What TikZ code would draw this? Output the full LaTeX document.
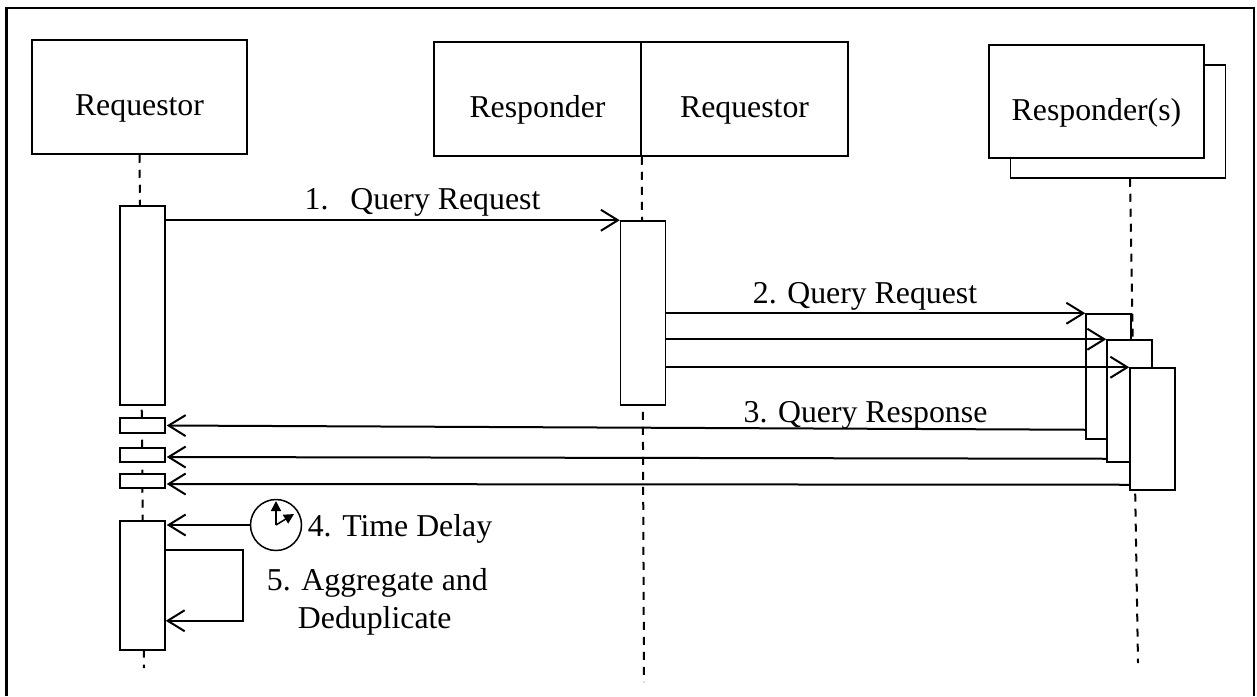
\documentclass[tikz,border=0pt]{standalone}
\usepackage{fontspec}
\setmainfont{Liberation Serif}
\usetikzlibrary{positioning, arrows.meta}

\tikzset{
  lab/.style={font=\fontsize{31.8}{38}\selectfont, inner sep=0pt},
  actor/.style={draw, fill=white, line width=1.5pt, minimum width=215pt, minimum height=114pt, inner sep=0pt, lab, text height=44pt, text depth=7pt},
  bar/.style={draw, fill=white, line width=1.5pt, minimum width=45pt, inner sep=0pt},
  life/.style={line width=2pt, dash pattern=on 8pt off 7pt},
  msg/.style={line width=2pt, -{Straight Barb[length=17pt,width=21pt,line width=2pt]}},
  hand/.style={line width=1.5pt, -{Triangle[length=10pt,width=10pt]}}
}

\begin{document}
\begin{tikzpicture}[x=1pt, y=1pt, on grid, node distance=100pt]
   \useasboundingbox (0,0) rectangle (1257,-696);
   \draw[line width=2.5pt] (6.5,-696) |- (1254,-8) -- (1254,-696);

   % Heads
   \node[actor] (reqa) at (139.5,-97) {Requestor};
   \node[actor, minimum width=207pt] (resp) [below right=2pt and 398pt of reqa] {Responder};
   \node[actor, minimum width=207pt] (reqb) [right=207pt of resp] {Requestor};
   \node[actor, minimum height=113pt] (back) [below right=22.5pt and 373.5pt of reqb] {};
   \node[actor, minimum height=113pt] (respc) [above left=20pt and 21.5pt of back] {Responder(s)};

   % Lifelines
   \coordinate (enda) at (144,-668);
   \coordinate (endb) at (644,-682);
   \coordinate (endc) at (1138,-663);
   \draw[life] (reqa.south) -- (enda);
   \draw[life] (resp.south east) -- (endb);
   \draw[life] ([xshift=12pt]back.south) -- (endc);

   % Activation bars
   \node[bar, minimum height=199pt] (bara) at (142.5,-305.5) {};
   \node[bar, minimum height=15pt] (smalla) [below=120pt of bara] {};
   \node[bar, minimum height=14pt] (smallb) [below=29.5pt of smalla] {};
   \node[bar, minimum height=14pt] (smallc) [below=26pt of smallb] {};
   \node[bar, minimum height=129pt] (barz) [below=104.5pt of smallc] {};
   \node[bar, minimum height=184pt] (barb) [below right=7.5pt and 500.5pt of bara] {};
   \node[bar, minimum height=125pt] (barc) [below right=63.5pt and 465.5pt of barb] {};
   \node[bar, minimum height=122pt] (bard) [below right=24.5pt and 21pt of barc] {};
   \node[bar, minimum height=122pt] (bare) [below right=28pt and 23pt of bard] {};

   % Clock
   \node[draw, circle, line width=1.5pt, minimum size=51pt, inner sep=0pt] (clock) [above right=60.5pt and 133.5pt of barz] {};
   \coordinate[above=24pt of clock.center] (handa);
   \coordinate[above right=11pt and 18pt of clock.center] (handb);
   \draw[hand] (clock.center) -- (handa);
   \draw[hand] (clock.center) -- (handb);

   % Requests
   \draw[msg] (bara.east |- barb.north) -- (barb.north west);
   \draw[msg] (barb.east |- barc.north) -- (barc.north west);
   \draw[msg] (barb.east |- bard.north) -- (bard.north west);
   \draw[msg] (barb.east |- bare.north) -- (bare.north west);

   % Responses
   \draw[msg, shorten >=1pt] ([yshift=10pt]barc.south west) -- (smalla.east);
   \draw[msg, shorten >=1pt] ([yshift=4pt]bard.south west) -- ([yshift=-2pt]smallb.east);
   \draw[msg, shorten >=1pt] ([yshift=6pt]bare.south west) -- ([yshift=-3pt]smallc.east);

   % Delay and self call
   \draw[msg, shorten >=1pt] (clock.west) -- (clock.west -| barz.east);
   \draw[msg] ([yshift=-30pt]barz.north east) -| ([xshift=77pt,yshift=30pt]barz.south east) -- ([yshift=30pt]barz.south east);

   % Labels
   \node[lab] (laba) [above right=103pt and 280pt of bara] {1.\hspace{22pt}Query Request};
   \node[lab] (labb) [above right=17pt and 222pt of barb] {2. Query Request};
   \node[lab] (labc) [below right=102pt and 222.5pt of barb] {3. Query Response};
   \node[lab] (labd) [below right=4pt and 124pt of clock] {4. Time Delay};
   \node[lab, align=left, anchor=west] (labe) at ([xshift=101pt,yshift=-82pt]barz.north east) {5. Aggregate and\\\hspace{31pt}Deduplicate};
\end{tikzpicture}
\end{document}
